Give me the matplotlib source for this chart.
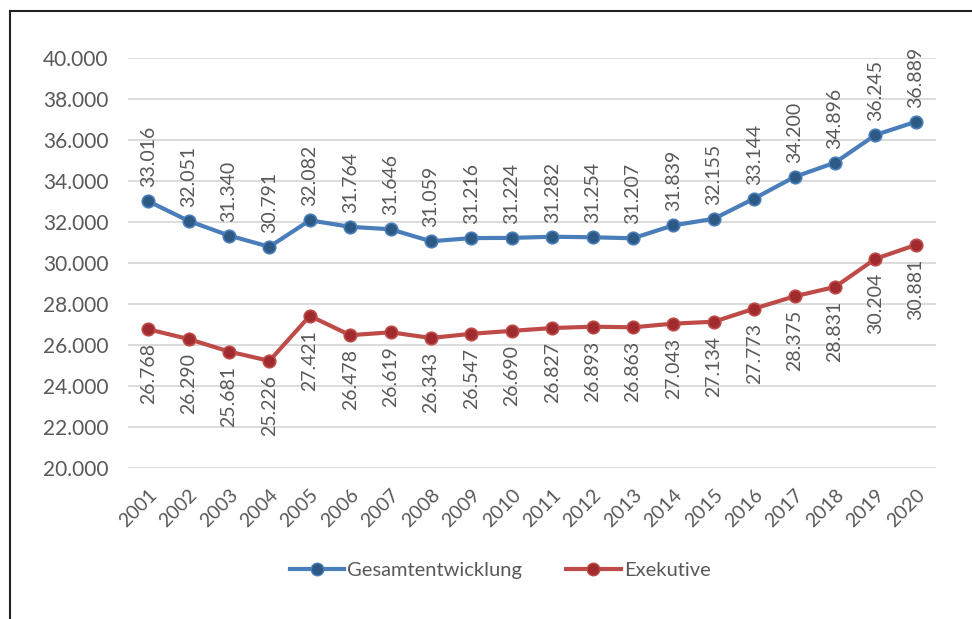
import numpy as np
import matplotlib.pyplot as plt
from matplotlib.lines import Line2D

years = [str(y) for y in range(2001, 2021)]
gesamt = [33016, 32051, 31340, 30791, 32082, 31764, 31646, 31059, 31216, 31224,
          31282, 31254, 31207, 31839, 32155, 33144, 34200, 34896, 36245, 36889]
exekutive = [26768, 26290, 25681, 25226, 27421, 26478, 26619, 26343, 26547, 26690,
             26827, 26893, 26863, 27043, 27134, 27773, 28375, 28831, 30204, 30881]

plt.rcParams['font.family'] = ['Lato', 'DejaVu Sans']
txt = '#595959'
fs = 14

def fmt(v):
    return f"{v:,.0f}".replace(',', '.')

fig = plt.figure(figsize=(9.72, 6.19), dpi=100)
ax = fig.add_axes([128/972, 1 - 468/619, (936-128)/972, (468-58)/619])

x = np.arange(len(years))
ax.plot(x, gesamt, color='#4A7EBB', lw=3, marker='o', ms=9,
        mfc='#2C5A85', mec='#4A7EBB', mew=1.2, zorder=3)
ax.plot(x, exekutive, color='#BE4B48', lw=3, marker='o', ms=9,
        mfc='#A02B2E', mec='#BE4B48', mew=1.2, zorder=3)

for i in x:
    ax.annotate(fmt(gesamt[i]), (i, gesamt[i]), xytext=(0, 10), textcoords='offset points',
                rotation=90, ha='center', va='bottom', fontsize=fs, color=txt)
    ax.annotate(fmt(exekutive[i]), (i, exekutive[i]), xytext=(0, -10), textcoords='offset points',
                rotation=90, ha='center', va='top', fontsize=fs, color=txt)

ax.set_xlim(-0.5, len(years) - 0.5)
ax.set_ylim(20000, 40000)
yt = np.arange(20000, 40001, 2000)
ax.set_yticks(yt)
ax.set_yticklabels([fmt(v) for v in yt], fontsize=15, color=txt)
ax.set_xticks(x)
ax.set_xticklabels(years, rotation=45, ha='right', rotation_mode='anchor', fontsize=fs, color=txt)
ax.tick_params(axis='y', length=0, pad=14)
ax.tick_params(axis='x', length=0, pad=13)
ax.grid(axis='y', color='#D9D9D9', lw=1.3)
ax.set_axisbelow(True)
for s in ax.spines.values():
    s.set_visible(False)

handles = [Line2D([], [], color='#4A7EBB', lw=3, marker='o', ms=9, mfc='#2C5A85', mec='#4A7EBB'),
           Line2D([], [], color='#BE4B48', lw=3, marker='o', ms=9, mfc='#A02B2E', mec='#BE4B48')]
fig.legend(handles, ['Gesamtentwicklung', 'Exekutive'], loc='center', bbox_to_anchor=(500/972, 1 - 570/619),
           ncol=2, frameon=False, fontsize=14.5, labelcolor=txt, handlelength=2.7,
           handletextpad=0.15, columnspacing=2.2)

# outer frame (left and top edges)
fig.add_artist(Line2D([10/972, 10/972], [0, 1 - 11/619], color='#222222', lw=1.5, transform=fig.transFigure))
fig.add_artist(Line2D([10/972, 1], [1 - 11/619, 1 - 11/619], color='#222222', lw=1.5, transform=fig.transFigure))

fig.savefig('out.png', dpi=100)
